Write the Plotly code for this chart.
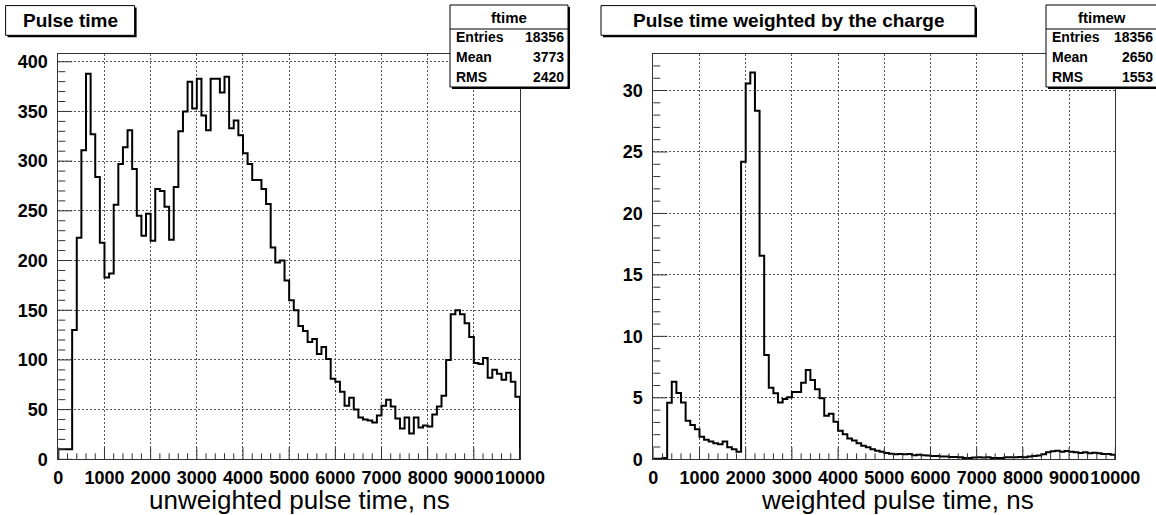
import plotly.graph_objects as go

W, H = 1156, 515

# Histogram binning: 100 bins of 100 ns from 0 to 10000 ns
bin_edges = [i * 100 for i in range(101)]

# Unweighted pulse time (counts per bin)
ftime_counts = [
    10, 10, 10, 130, 223, 311, 388, 327, 284, 218,
    183, 187, 256, 297, 314, 331, 292, 245, 225, 247,
    220, 272, 270, 254, 221, 274, 330, 350, 380, 353,
    383, 346, 331, 383, 383, 369, 385, 333, 341, 326,
    308, 297, 281, 281, 272, 257, 213, 198, 200, 180,
    160, 150, 134, 129, 118, 121, 106, 113, 101, 81,
    78, 68, 54, 62, 50, 42, 40, 39, 37, 44,
    54, 60, 53, 41, 31, 42, 26, 42, 32, 34,
    33, 45, 53, 64, 100, 146, 150, 146, 137, 123,
    97, 96, 102, 82, 90, 86, 80, 87, 78, 63,
]

# Pulse time weighted by the charge
ftimew_values = [
    0.05, 0.05, 0.1, 4.6, 6.3, 5.4, 4.63, 3.14, 2.79, 2.44,
    1.84, 1.6, 1.44, 1.3, 1.22, 1.44, 0.98, 0.81, 0.62, 24.2,
    30.57, 31.46, 28.35, 16.56, 8.48, 5.83, 5.37, 4.63, 4.9, 5.04,
    5.47, 5.47, 6.23, 7.26, 6.45, 5.69, 4.96, 3.55, 3.71, 3.06,
    2.33, 2.03, 1.7, 1.52, 1.3, 1.11, 0.98, 0.81, 0.7, 0.62,
    0.51, 0.46, 0.41, 0.43, 0.41, 0.43, 0.33, 0.38, 0.33, 0.3,
    0.27, 0.27, 0.22, 0.22, 0.19, 0.19, 0.16, 0.11, 0.11, 0.14,
    0.16, 0.14, 0.16, 0.11, 0.11, 0.11, 0.16, 0.16, 0.16, 0.19,
    0.16, 0.22, 0.27, 0.3, 0.41, 0.57, 0.65, 0.7, 0.62, 0.68,
    0.62, 0.57, 0.51, 0.57, 0.49, 0.54, 0.49, 0.43, 0.43, 0.38,
]

x_tick_step = 1000
x_minor_step = 200
left_y_tick_step = 50
left_y_minor_step = 10
right_y_tick_step = 5
right_y_minor_step = 1

stats_left = {"name": "ftime", "Entries": "18356", "Mean": "3773", "RMS": "2420"}
stats_right = {"name": "ftimew", "Entries": "18356", "Mean": "2650", "RMS": "1553"}

BOLD = dict(family="Liberation Sans", size=18, color="black", weight="bold")
GRID_DASH = "2px,2px"
GRID_COLOR = "#555"
TICK_COLOR = "#333"

X_RANGE = [0, 10000]
LEFT_Y_RANGE = [0, 407.8]
RIGHT_Y_RANGE = [0, 32.97]

# Frame placement in pixels
LEFT_FRAME_X = (58.3, 520)
RIGHT_FRAME_X = (653.3, 1115.3)
FRAME_Y = (54, 459.3)


def px(x):
    return x / W


def py(y):
    return 1 - y / H


def step_xy(edges, vals):
    xs = [edges[0]] + list(edges) + [edges[-1]]
    ys = [0] + list(vals) + [vals[-1], 0]
    return xs, ys


def tick_values(rng, step):
    n = int(rng[1] // step)
    return [i * step for i in range(n + 1)]


fig = go.Figure()

for vals, xa, ya in [(ftime_counts, "x", "y"), (ftimew_values, "x2", "y2")]:
    xs, ys = step_xy(bin_edges, vals)
    fig.add_trace(go.Scatter(
        x=xs, y=ys, mode="lines", line=dict(color="black", width=2, shape="hv"),
        xaxis=xa, yaxis=ya, showlegend=False, hoverinfo="skip",
    ))

y_dom = [py(FRAME_Y[1]), py(FRAME_Y[0])]


def xaxis_cfg(frame, anchor):
    return dict(
        domain=[px(frame[0]), px(frame[1])], range=X_RANGE, dtick=x_tick_step,
        ticks="", tickangle=0, exponentformat="none", separatethousands=False,
        tickformat="d", tickfont=BOLD, ticklabelstandoff=2,
        showgrid=True, gridcolor=GRID_COLOR, griddash=GRID_DASH, gridwidth=1,
        showline=True, linecolor="#333", linewidth=1, mirror=True,
        zeroline=False, anchor=anchor,
    )


def yaxis_cfg(rng, step, anchor):
    return dict(
        domain=y_dom, range=rng, dtick=step, ticks="", ticklabelstandoff=6,
        tickfont=BOLD,
        showgrid=True, gridcolor=GRID_COLOR, griddash=GRID_DASH, gridwidth=1,
        showline=True, linecolor="#333", linewidth=1, mirror=True,
        zeroline=False, anchor=anchor,
    )


fig.update_layout(
    width=W, height=H, margin=dict(l=0, r=0, t=0, b=0, autoexpand=False),
    paper_bgcolor="white", plot_bgcolor="white",
    xaxis=xaxis_cfg(LEFT_FRAME_X, "y"), xaxis2=xaxis_cfg(RIGHT_FRAME_X, "y2"),
    yaxis=yaxis_cfg(LEFT_Y_RANGE, left_y_tick_step, "x"),
    yaxis2=yaxis_cfg(RIGHT_Y_RANGE, right_y_tick_step, "x2"),
)

shapes = []
annotations = []

# Inward tick marks along the bottom and left edge of each frame
frame_h = FRAME_Y[1] - FRAME_Y[0]
for xa, ya, frame, y_rng, y_step, y_minor in [
    ("x", "y", LEFT_FRAME_X, LEFT_Y_RANGE, left_y_tick_step, left_y_minor_step),
    ("x2", "y2", RIGHT_FRAME_X, RIGHT_Y_RANGE, right_y_tick_step, right_y_minor_step),
]:
    frame_w = frame[1] - frame[0]
    for v in tick_values(X_RANGE, x_minor_step):
        length = 12 if v % x_tick_step == 0 else 6
        shapes.append(dict(type="line", xref=xa, yref=ya + " domain",
                           x0=v, x1=v, y0=0, y1=length / frame_h,
                           line=dict(color=TICK_COLOR, width=1), layer="above"))
    for v in tick_values(y_rng, y_minor):
        length = 14 if round(v / y_step, 6) == round(v / y_step) else 7
        shapes.append(dict(type="line", xref=xa + " domain", yref=ya,
                           x0=0, x1=length / frame_w, y0=v, y1=v,
                           line=dict(color=TICK_COLOR, width=1), layer="above"))


def shadow_box(x0, y0, x1, y1):
    shapes.append(dict(type="rect", xref="paper", yref="paper",
                       x0=px(x0 + 2), x1=px(x1 + 2), y0=py(y1 + 2), y1=py(y0 + 2),
                       fillcolor="black", line=dict(width=0)))
    shapes.append(dict(type="rect", xref="paper", yref="paper",
                       x0=px(x0), x1=px(x1), y0=py(y1), y1=py(y0),
                       fillcolor="white", line=dict(color="black", width=1)))


def text(x, y, s, size, anchor="center", bold=True):
    font = dict(family="Liberation Sans", size=size, color="black")
    if bold:
        font["weight"] = "bold"
    annotations.append(dict(xref="paper", yref="paper", x=px(x), y=py(y), text=s,
                            showarrow=False, xanchor=anchor, yanchor="middle",
                            font=font, borderpad=0))


# Histogram titles
shadow_box(5.6, 5.6, 134.6, 35.3)
text(70, 20.5, "Pulse time", 19)
shadow_box(601, 5.6, 975, 35.3)
text(788, 20.5, "Pulse time weighted by the charge", 19)

# Statistics boxes
for st, x0, x1 in [(stats_left, 450, 568), (stats_right, 1046, 1157)]:
    shadow_box(x0, 5, x1, 87)
    shapes.append(dict(type="line", xref="paper", yref="paper",
                       x0=px(x0), x1=px(x1), y0=py(29), y1=py(29),
                       line=dict(color="black", width=1)))
    text((x0 + x1) / 2, 17.5, st["name"], 15)
    for key, yy in [("Entries", 37), ("Mean", 57), ("RMS", 77.3)]:
        text(x0 + 5, yy, key, 14, anchor="left")
        text(x1 - 3, yy, st[key], 14, anchor="right")

# Axis titles
text(299.5, 500, "unweighted pulse time, ns", 26, bold=False)
text(897, 500, "weighted pulse time, ns", 26, bold=False)

fig.update_layout(shapes=shapes, annotations=annotations)

fig.write_html("out.html")
